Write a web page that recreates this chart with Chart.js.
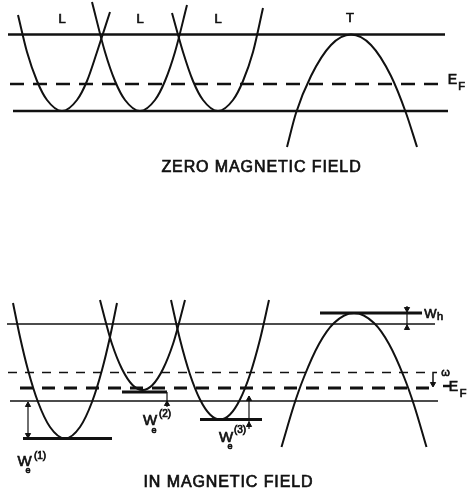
<!DOCTYPE html>
<html lang="en">
<head>
<meta charset="UTF-8">
<title>Bands in zero and in magnetic field</title>
<script src="https://cdn.jsdelivr.net/npm/chart.js"></script>
<style>
  html, body { margin: 0; padding: 0; background: #fff; }
  #wrap { width: 469px; height: 497px; }
</style>
</head>
<body>
<div id="wrap"><canvas id="bands" width="469" height="497"></canvas></div>
<script>
// diagram units: x runs 0..469 left to right, y (energy) runs 0..497 top to bottom
const ink = '#111';

// zero magnetic field: three L electron pockets and the T hole band
const zeroL1 = [[18,15],[27,52],[37,81],[47,100],[62,111],[77,100],[87,81],[97,52],[110,12]];
const zeroL2 = [[92,2],[105,52],[115,81],[125,100],[140,111],[155,100],[165,81],[175,52],[187,5]];
const zeroL3 = [[172,13],[183,52],[193,81],[203,100],[218,111],[233,100],[243,81],[253,52],[263,8]];
const zeroT  = [[287,147],[296,113],[311,76],[331,45],[351,34.5],[371,45],[391,76],[406,113],[417,147]];
const zeroTop    = [[8,34.5],[445,34.5]];
const zeroFermi  = [[10,84],[443,84]];
const zeroBottom = [[13,111],[448,111]];

// in magnetic field: shifted band edges
const fieldL1 = [[13,303],[20,337],[28,370],[38,402],[50,427],[65,438.5],[80,427],[92,402],[102,370],[110,337],[117,303]];
const fieldL2 = [[100,300],[106,323],[112,344],[122,369],[132.5,385],[142.5,390],[152.5,385],[163,369],[173,344],[179,323],[185,300]];
const fieldL3 = [[171,300],[180,339.5],[190,374.5],[200,399.5],[210,414.5],[220,419.5],[230,414.5],[240,399.5],[250,374.5],[260,339.5],[269,300]];
const fieldT  = [[281.5,447],[294,405],[304,377],[319,344],[334,323],[354,313],[374,323],[389,344],[404,377],[414,405],[426.5,447]];
const fieldTop    = [[7,324],[435,324]];
const fieldOmega  = [[8,372.5],[432,372.5]];
const fieldFermi  = [[20,388],[432,388]];
const fieldFermiEnd = [[443,386],[451,386]];
const fieldBottom = [[10,401],[438,401]];

// Landau level edges W_e(1), W_e(2), W_e(3), W_h
const levelW1 = [[23,438.5],[112,438.5]];
const levelW2 = [[122,392],[167,392]];
const levelW3 = [[200,419.5],[262,419.5]];
const levelWh = [[320,313],[422,313]];

// arrow shafts and heads (rotation 0 = up, 180 = down)
const shaftW1 = [[28,402],[28,438]];
const shaftW2 = [[167,392],[167,407]];
const shaftW3 = [[249,396],[249,429]];
const shaftWh = [[407,306],[407,330]];
const bracketOmega = [[437,372.5],[433,372.5],[433,386]];
const headPts = [[28,405],[28,435],[167,404],[249,399],[249,425],[407,309],[407,328],[433,384]];
const headRot = [0, 180, 0, 0, 0, 180, 0, 180];

// text labels
const labelText = ['L','L','L','T','E','F','ZERO MAGNETIC FIELD',
  'W','h','ω','E','F',
  'W','(1)','e','W','(2)','e','W','(3)','e','IN MAGNETIC FIELD'];
const labelX = [62,140,218,350,452.5,461.5,261.5,
  430.5,440,445.5,453.5,463,
  24.5,40,28,150,165,154,226,240,230,228.5];
const labelY = [19,19,19,18,80,86.5,168,
  314.5,317,373,387.5,394,
  462,456,471,421,414,431,438,430,447,482.5];
const labelSize = [13,13,13,13,14,11,16,
  13,11,11,14,11,
  15,10,9,15,10,9,15,10,9,16];

const pts = a => a.map(p => ({x: p[0], y: p[1]}));

function line(a, width, dash, curve) {
  return {
    data: pts(a), showLine: true, borderColor: ink, borderWidth: width,
    borderDash: dash || [], pointRadius: 0,
    cubicInterpolationMode: curve ? 'monotone' : 'default', tension: 0
  };
}

const datasets = [
  line(zeroTop, 2.5), line(zeroFermi, 2.5, [14, 9]), line(zeroBottom, 2.5),
  line(zeroL1, 2, null, true), line(zeroL2, 2, null, true), line(zeroL3, 2, null, true), line(zeroT, 2, null, true),
  line(fieldTop, 1.3), line(fieldOmega, 1.5, [9, 8]), line(fieldFermi, 3, [13, 9]),
  line(fieldFermiEnd, 2.5), line(fieldBottom, 1.3),
  line(fieldL1, 2, null, true), line(fieldL2, 2, null, true), line(fieldL3, 2, null, true), line(fieldT, 2, null, true),
  line(levelW1, 3), line(levelW2, 3), line(levelW3, 3), line(levelWh, 3),
  line(shaftW1, 1.2), line(shaftW2, 1.2), line(shaftW3, 1.2), line(shaftWh, 1.2), line(bracketOmega, 1.5),
  {
    data: pts(headPts), showLine: false, pointStyle: 'triangle',
    pointRadius: 3, pointRotation: headRot,
    pointBackgroundColor: ink, pointBorderColor: ink, pointBorderWidth: 1
  }
];

// pen-lettering look: fill plus a thin stroke
const textPlugin = {
  id: 'diagramText',
  afterDatasetsDraw(chart) {
    const {ctx, scales: {x, y}} = chart;
    ctx.save();
    ctx.fillStyle = ink;
    ctx.strokeStyle = ink;
    ctx.lineWidth = 0.7;
    ctx.textAlign = 'center';
    ctx.textBaseline = 'middle';
    labelText.forEach((t, i) => {
      ctx.font = labelSize[i] + 'px "Liberation Sans", Arial, sans-serif';
      ctx.letterSpacing = t.length > 5 ? '0.9px' : '0px';
      const px = x.getPixelForValue(labelX[i]), py = y.getPixelForValue(labelY[i]);
      ctx.fillText(t, px, py);
      ctx.strokeText(t, px, py);
    });
    ctx.restore();
  }
};

new Chart(document.getElementById('bands'), {
  type: 'scatter',
  data: { datasets },
  options: {
    responsive: false,
    animation: false,
    layout: { padding: 0, autoPadding: false },
    plugins: { legend: { display: false }, tooltip: { enabled: false } },
    scales: {
      x: { type: 'linear', min: 0, max: 469, display: false },
      y: { type: 'linear', min: 0, max: 497, reverse: true, display: false }
    }
  },
  plugins: [textPlugin]
});
</script>
</body>
</html>
